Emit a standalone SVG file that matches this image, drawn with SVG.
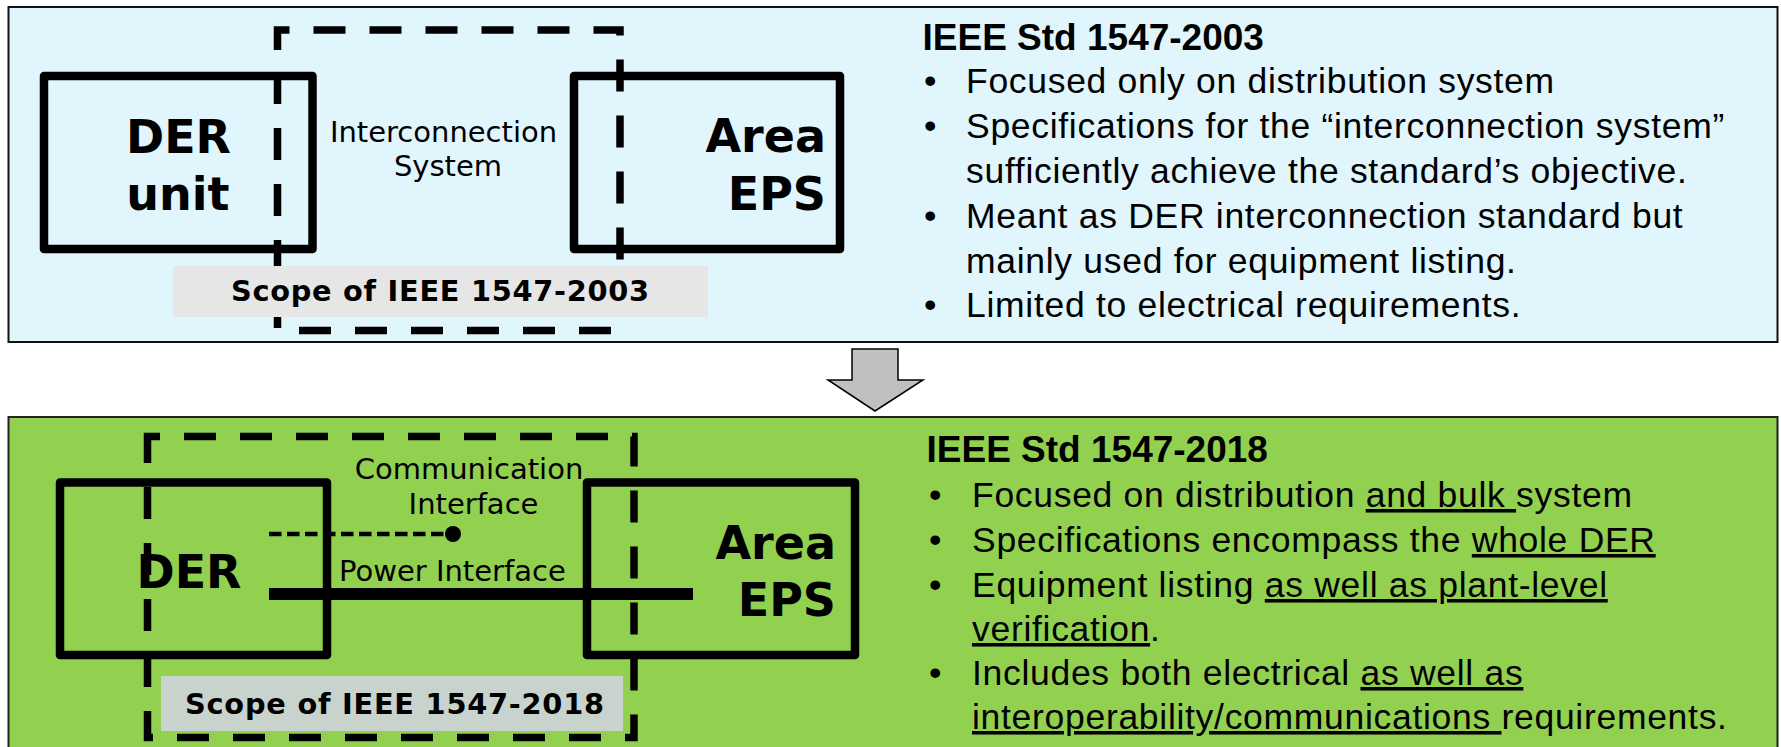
<svg xmlns="http://www.w3.org/2000/svg" width="1781" height="747" viewBox="0 0 1781 747">
  <style>
    .panel-a { fill: #E1F5FC; stroke: #111; stroke-width: 2; }
    .panel-b { fill: #92D050; stroke: #222; stroke-width: 2; }
    .box { fill: none; stroke: #000; stroke-width: 8.5; stroke-linejoin: round; }
    .scope { fill: none; stroke: #000; stroke-width: 7.5; stroke-dasharray: 32 24; }
    .ui { font-family: "DejaVu Sans", Verdana, sans-serif; fill: #000; }
    .big { font-size: 46px; font-weight: bold; }
    .small { font-size: 29px; }
    .tag { font-size: 28.8px; font-weight: bold; }
    .title { font-family: "Liberation Sans", Arial, sans-serif; font-size: 37px; font-weight: bold; fill: #000; }
    .body { font-family: "Liberation Sans", Arial, sans-serif; font-size: 35.5px; letter-spacing: 0.7px; fill: #000; }
    .u { text-decoration: underline; }
  </style>

  <!-- upper panel: IEEE 1547-2003 -->
  <g id="panel-2003">
    <rect class="panel-a" x="8.5" y="7" width="1769" height="335"/>
  </g>

  <g id="scope-2003">
    <path class="scope" d="M277.5,50 V30 H620 V330.5 H277.5 Z"/>
    <rect x="173" y="266" width="535" height="51" fill="#E6E6E6"/>
    <text class="ui tag" x="231" y="301" textLength="418">Scope of IEEE 1547-2003</text>
  </g>

  <g id="der-unit">
    <rect class="box" x="44" y="76" width="268.5" height="173"/>
    <text class="ui big" x="178.5" y="153" text-anchor="middle">DER</text>
    <text class="ui big" x="178" y="210" text-anchor="middle">unit</text>
  </g>

  <g id="interconnection-system">
    <text class="ui small" x="443.5" y="142" text-anchor="middle">Interconnection</text>
    <text class="ui small" x="448" y="176" text-anchor="middle">System</text>
  </g>

  <g id="area-eps-2003">
    <rect class="box" x="574" y="76" width="266" height="173"/>
    <text class="ui big" x="826" y="152" text-anchor="end">Area</text>
    <text class="ui big" x="826" y="210" text-anchor="end">EPS</text>
  </g>

  <g id="notes-2003">
    <text class="title" x="922.5" y="50">IEEE Std 1547-2003</text>
    <text class="body" x="924" y="93">•</text>
    <text class="body" x="966" y="93">Focused only on distribution system</text>
    <text class="body" x="924" y="138">•</text>
    <text class="body" x="966" y="138">Specifications for the “interconnection system”</text>
    <text class="body" x="966" y="183">sufficiently achieve the standard’s objective.</text>
    <text class="body" x="924" y="228">•</text>
    <text class="body" x="966" y="228">Meant as DER interconnection standard but</text>
    <text class="body" x="966" y="273">mainly used for equipment listing.</text>
    <text class="body" x="924" y="317">•</text>
    <text class="body" x="966" y="317">Limited to electrical requirements.</text>
  </g>

  <!-- transition arrow -->
  <g id="transition">
    <polygon points="852,349 898,349 898,380 923,380 875,411 828,380 852,380" fill="#C0C0C0" stroke="#000" stroke-width="1.5" stroke-linejoin="miter"/>
  </g>

  <!-- lower panel: IEEE 1547-2018 -->
  <g id="panel-2018">
    <rect class="panel-b" x="8.5" y="417" width="1769" height="345"/>
  </g>

  <g id="scope-2018">
    <path class="scope" d="M147.5,456 V436.5 H634 V737.5 H147.5 Z"/>
    <rect x="161" y="676" width="462" height="55" fill="#C9D3CD"/>
    <text class="ui tag" x="185" y="714" textLength="419">Scope of IEEE 1547-2018</text>
  </g>

  <g id="der">
    <rect class="box" x="60" y="482.5" width="267" height="172.5"/>
    <text class="ui big" x="136.5" y="588">DER</text>
  </g>

  <g id="area-eps-2018">
    <rect class="box" x="587" y="482.5" width="268" height="172.5"/>
    <text class="ui big" x="836" y="559" text-anchor="end">Area</text>
    <text class="ui big" x="836" y="616" text-anchor="end">EPS</text>
  </g>

  <g id="connectors">
    <path d="M269,534 H446" fill="none" stroke="#000" stroke-width="4.5" stroke-dasharray="12.5 5.5"/>
    <circle cx="453" cy="534" r="8" fill="#000"/>
    <path d="M269,594 H693" fill="none" stroke="#000" stroke-width="12"/>
  </g>

  <g id="interface-labels">
    <text class="ui small" x="469" y="479" text-anchor="middle">Communication</text>
    <text class="ui small" x="473.5" y="514" text-anchor="middle">Interface</text>
    <text class="ui small" x="339" y="581">Power Interface</text>
  </g>

  <g id="notes-2018">
    <text class="title" x="926.5" y="462">IEEE Std 1547-2018</text>
    <text class="body" x="929" y="507">•</text>
    <text class="body" x="972" y="507">Focused on distribution <tspan class="u">and bulk </tspan>system</text>
    <text class="body" x="929" y="552">•</text>
    <text class="body" x="972" y="552">Specifications encompass the <tspan class="u">whole DER</tspan></text>
    <text class="body" x="929" y="597">•</text>
    <text class="body" x="972" y="597">Equipment listing <tspan class="u">as well as plant-level</tspan></text>
    <text class="body" x="972" y="641"><tspan class="u">verification</tspan>.</text>
    <text class="body" x="929" y="685">•</text>
    <text class="body" x="972" y="685">Includes both electrical <tspan class="u">as well as</tspan></text>
    <text class="body" x="972" y="729"><tspan class="u">interoperability/communications </tspan>requirements.</text>
  </g>
</svg>
